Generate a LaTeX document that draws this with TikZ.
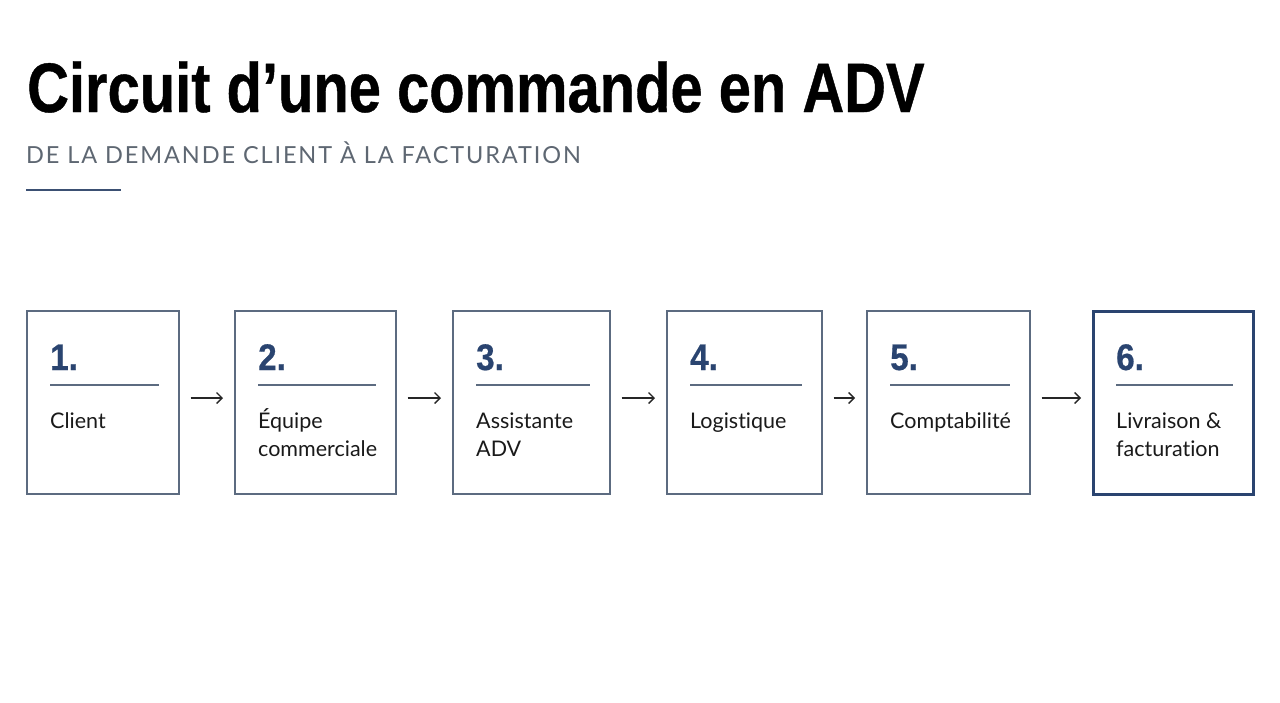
\documentclass[tikz,border=0pt]{standalone}
\usepackage{fontspec}
\setmainfont[Ligatures=NoCommon]{Lato}
\newfontfamily\titlefont[FakeStretch=0.827,FakeBold=0.6]{Liberation Sans Bold}
\newfontfamily\numfont[FakeStretch=0.90,FakeBold=0.5]{Liberation Sans Bold}
\newfontfamily\subfont[LetterSpace=8,Ligatures=NoCommon]{Lato}
\usetikzlibrary{arrows.meta}
\definecolor{navy}{HTML}{2A4470}
\definecolor{boxgrey}{HTML}{5C6B80}
\definecolor{subgrey}{HTML}{5E6772}
\definecolor{txt}{HTML}{1A1A1A}
\newcommand{\topstrut}{\rule{0pt}{22pt}}
\tikzset{
  stepbox/.style={draw=boxgrey, line width=1.6pt, anchor=north west, minimum height=183pt, inner sep=0pt},
  laststep/.style={stepbox, draw=navy, line width=3pt},
  numtext/.style={anchor=base west, inner sep=0pt, text=navy, font=\numfont\fontsize{37}{40}\selectfont},
  steptext/.style={anchor=north west, inner sep=0pt, text=txt, align=left, font=\fontsize{21.5}{28}\selectfont},
  rulel/.style={draw=boxgrey, line width=1.3pt},
  flow/.style={draw=black!85, line width=1.3pt, -{Straight Barb[length=5.5pt,width=11pt,line width=1.3pt]}, shorten <=11pt, shorten >=11pt}
}
\begin{document}
\begin{tikzpicture}[x=1pt,y=-1pt]
\useasboundingbox[fill=white] (0,0) rectangle (1280,702);
\node[anchor=base west, inner sep=0pt, font=\titlefont\fontsize{70}{72}\selectfont] (title) at (27,112) {Circuit d’une commande en ADV};
\node[anchor=base west, inner sep=0pt, text=subgrey, font=\subfont\fontsize{23.5}{25}\selectfont] (sub) at (26,163) {DE LA DEMANDE CLIENT À LA FACTURATION};
\coordinate (r1) at (26,190);
\coordinate (r2) at (121,190);
\draw[draw=navy!80!gray, line width=2.5pt] (r1) -- (r2);
% boxes
\foreach \i/\x/\w/\lab/\st in {1/26/152/Client/stepbox, 2/234/161/{Équipe\\commerciale}/stepbox, 3/452/157/{Assistante\\ADV}/stepbox, 4/666/155/Logistique/stepbox, 5/866/163/Comptabilité/stepbox, 6/1092/160/{Livraison \&\\facturation}/laststep}{
  \node[\st, minimum width=\w pt] (b\i) at (\x,310) {};
  \node[numtext] (n\i) at (\x+24,370) {\i.};
  \coordinate (la\i) at (\x+24,385);
  \coordinate (lb\i) at (\x+\w-19,385);
  \draw[rulel] (la\i) -- (lb\i);
  \node[steptext] (t\i) at (\x+24,406) {\topstrut\lab};
}
\foreach \a/\b in {1/2,2/3,3/4,4/5,5/6}{
  \draw[flow] (b\a.east |- 0,398) -- (b\b.west |- 0,398);
}
\end{tikzpicture}
\end{document}
